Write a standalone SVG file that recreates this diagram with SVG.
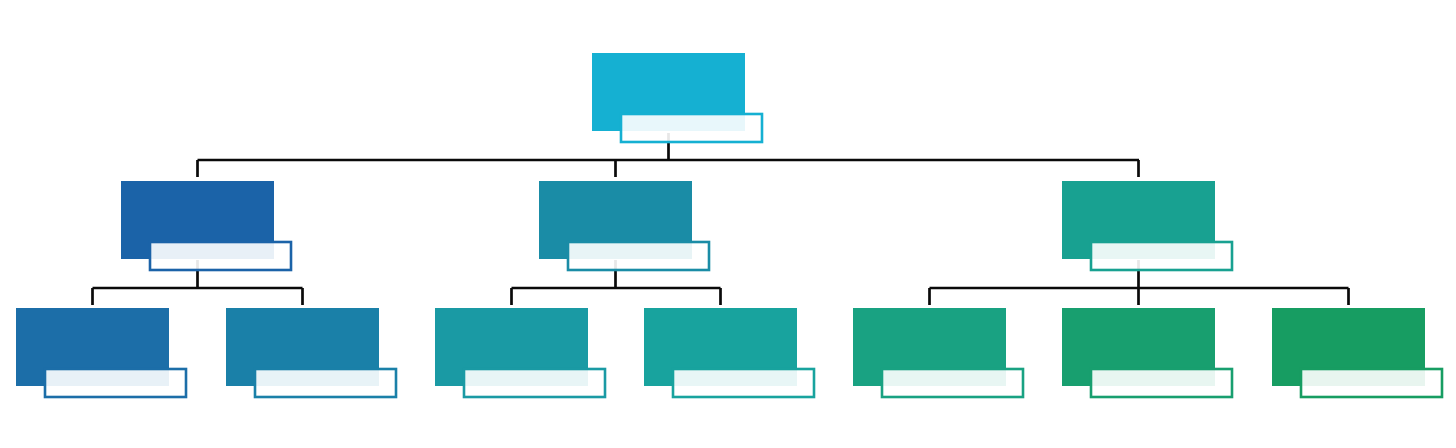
<svg xmlns="http://www.w3.org/2000/svg" width="1456" height="448" viewBox="0 0 1456 448">
<defs>
<style>
.conn{fill:none;stroke:#0a0a0a;stroke-width:2.7;stroke-linecap:butt}
.lbl{fill:#fff;fill-opacity:0.9;stroke-width:2.6}
</style>
</defs>
<rect width="1456" height="448" fill="#fff"/>
<g id="connectors">
<path class="conn" d="M668.5 133V160M197.5 160H1139M197.5 160V177M615.5 160V177M1138.5 160V177"/>
<path class="conn" d="M197.5 260V288M92.5 288H302.5M92.5 288V305M302.5 288V305"/>
<path class="conn" d="M615.5 260V288M511.5 288H720.5M511.5 288V305M720.5 288V305"/>
<path class="conn" d="M1138.5 260V305M929.5 288H1348.5M929.5 288V305M1348.5 288V305"/>
</g>
<g id="node-root"><rect x="592" y="53" width="153" height="78" fill="#15b0d2"/><rect class="lbl" x="621" y="114" width="141" height="28" stroke="#15b0d2"/></g>
<g id="node-a"><rect x="121" y="181" width="153" height="78" fill="#1b63a8"/><rect class="lbl" x="150" y="242" width="141" height="28" stroke="#1b63a8"/></g>
<g id="node-b"><rect x="539" y="181" width="153" height="78" fill="#1a8ca6"/><rect class="lbl" x="568" y="242" width="141" height="28" stroke="#1a8ca6"/></g>
<g id="node-c"><rect x="1062" y="181" width="153" height="78" fill="#18a191"/><rect class="lbl" x="1091" y="242" width="141" height="28" stroke="#18a191"/></g>
<g id="node-a1"><rect x="16" y="308" width="153" height="78" fill="#1c6ea8"/><rect class="lbl" x="45" y="369" width="141" height="28" stroke="#1c6ea8"/></g>
<g id="node-a2"><rect x="226" y="308" width="153" height="78" fill="#1a80a8"/><rect class="lbl" x="255" y="369" width="141" height="28" stroke="#1a80a8"/></g>
<g id="node-b1"><rect x="435" y="308" width="153" height="78" fill="#1a9aa4"/><rect class="lbl" x="464" y="369" width="141" height="28" stroke="#1a9aa4"/></g>
<g id="node-b2"><rect x="644" y="308" width="153" height="78" fill="#18a39e"/><rect class="lbl" x="673" y="369" width="141" height="28" stroke="#18a39e"/></g>
<g id="node-c1"><rect x="853" y="308" width="153" height="78" fill="#19a282"/><rect class="lbl" x="882" y="369" width="141" height="28" stroke="#19a282"/></g>
<g id="node-c2"><rect x="1062" y="308" width="153" height="78" fill="#189f6f"/><rect class="lbl" x="1091" y="369" width="141" height="28" stroke="#189f6f"/></g>
<g id="node-c3"><rect x="1272" y="308" width="153" height="78" fill="#179d62"/><rect class="lbl" x="1301" y="369" width="141" height="28" stroke="#179d62"/></g>
</svg>
